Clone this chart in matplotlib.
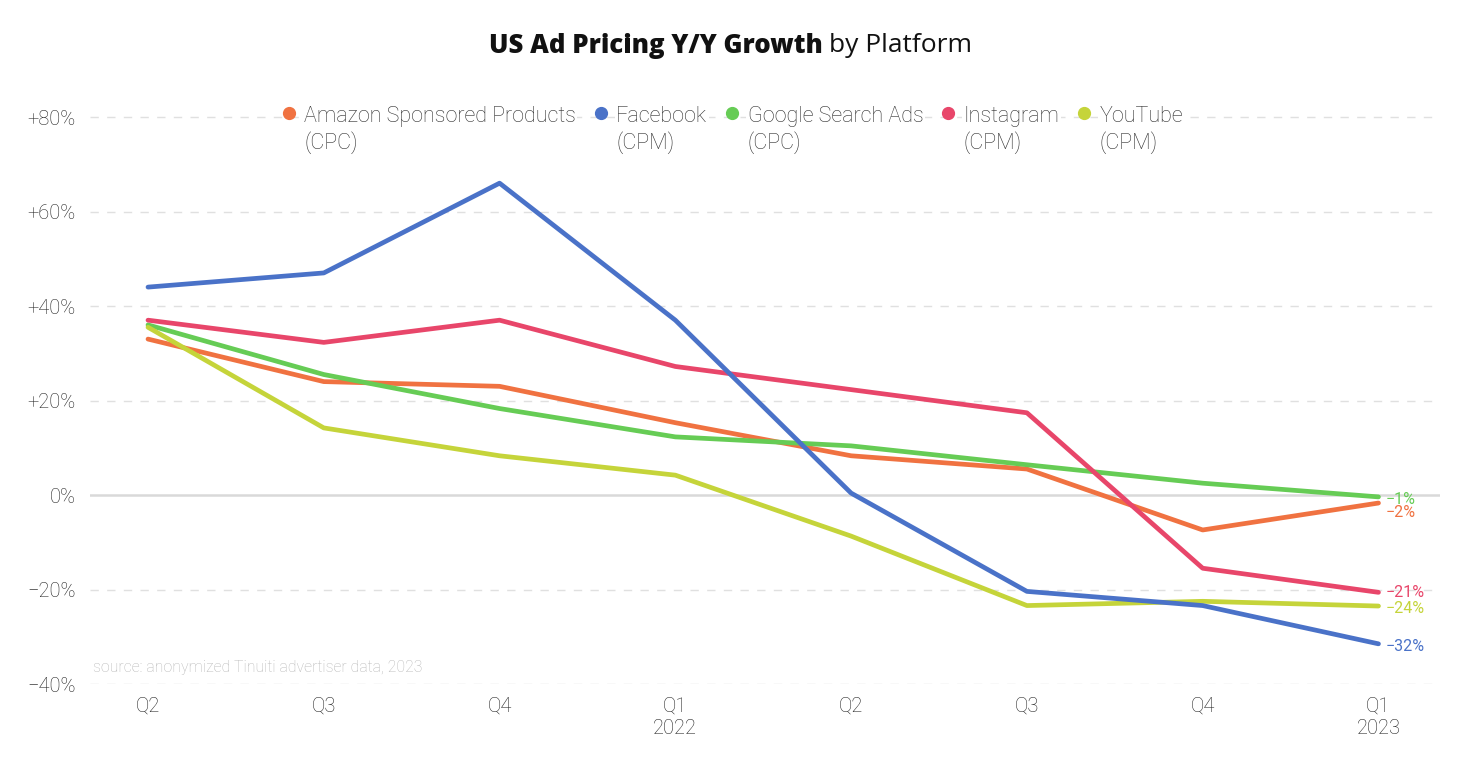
import matplotlib.pyplot as plt
from matplotlib.lines import Line2D

# ── data ───────────────────────────────────────────────
quarters = ["Q2", "Q3", "Q4", "Q1\n2022", "Q2", "Q3", "Q4", "Q1\n2023"]
names = ["Amazon Sponsored Products\n(CPC)", "Facebook\n(CPM)", "Google Search Ads\n(CPC)",
         "Instagram\n(CPM)", "YouTube\n(CPM)"]
amazon    = [33, 24, 23, 15.3, 8.3, 5.5, -7.4, -1.7]
facebook  = [44, 47, 66, 37, 0.4, -20.4, -23.4, -31.5]
google    = [36, 25.5, 18.3, 12.3, 10.4, 6.4, 2.5, -0.4]
instagram = [37, 32.3, 37, 27.2, 22.3, 17.4, -15.5, -20.6]
youtube   = [35.5, 14.2, 8.3, 4.2, -8.7, -23.4, -22.5, -23.5]
end_labels = ["\u22122%", "\u221232%", "\u22121%", "\u221221%", "\u221224%"]
yticks = [-40, -20, 0, 20, 40, 60, 80]

# ── style ──────────────────────────────────────────────
COLORS = ["#F07241", "#4A72C8", "#66CC55", "#E8466A", "#C5D43A"]
LABEL_DY = [-2.1, -0.5, -0.45, 0, -0.5]   # nudges for end labels
plt.rcParams['font.family'] = ['Roboto', 'DejaVu Sans']

fig = plt.figure(figsize=(14.64, 7.7), dpi=100)
ax = fig.add_axes([90 / 1464, 1 - 684 / 770, 1350 / 1464, 584 / 770])
ax.set_xlim(-0.33, 7.35)
ax.set_ylim(-40, 83.6)

series = [amazon, facebook, google, instagram, youtube]
x = list(range(len(quarters)))
order = [0, 2, 4, 3, 1]
for i in order:
    ax.plot(x, series[i], color=COLORS[i], lw=3.4, solid_capstyle='round', zorder=3 + order.index(i))

for i, s in enumerate(series):
    ax.text(x[-1] + 0.04, s[-1] + LABEL_DY[i], end_labels[i], color=COLORS[i],
            fontsize=11.5, ha='left', va='center', zorder=10)

# grid
for yv in yticks:
    if yv == 0:
        ax.axhline(0, color='#d9d9d9', lw=1.8, zorder=1)
    else:
        ax.axhline(yv, color='#e0e0e0', lw=1.0, ls=(0, (6, 6)), zorder=1)

ax.set_yticks(yticks)
ax.set_yticklabels([("+%d%%" % v) if v > 0 else ("0%" if v == 0 else "\u2212%d%%" % -v) for v in yticks])
ax.set_xticks(x)
ax.set_xticklabels(quarters)
ax.tick_params(length=0, labelsize=14.5, labelcolor='#222222')
ax.tick_params(axis='y', pad=10.5)
ax.tick_params(axis='x', pad=9)
for lab in ax.get_xticklabels() + ax.get_yticklabels():
    lab.set_fontweight('light')
for sp in ax.spines.values():
    sp.set_visible(False)

# legend
handles = [Line2D([], [], ls='none', marker='o', ms=8.5, color=c) for c in COLORS]
leg = fig.legend(handles, names, loc='upper center', bbox_to_anchor=(0.4998, 1 - 95 / 770),
                 ncol=5, frameon=False, fontsize=15.5, labelcolor='#2e2e2e',
                 handletextpad=0.32, columnspacing=0.75, handlelength=0.8, borderpad=0)
for t in leg.get_texts():
    t.set_fontweight('light')
    t.set_linespacing(1.25)
    t.set_bbox(dict(facecolor='white', edgecolor='none', pad=1))
for col in leg._legend_handle_box.get_children():
    for row in col.get_children():
        row.align = 'top'

# source
ax.text(0.002, -38.2, "source: anonymized Tinuiti advertiser data, 2023", transform=ax.get_yaxis_transform(),
        color='#b8b8b8', fontsize=11.4, fontweight='light', ha='left', va='bottom')

# title
fig.text(823 / 1464, 1 - 46 / 770, "US Ad Pricing Y/Y Growth", fontsize=18.5, fontweight='heavy',
         family=['Open Sans', 'DejaVu Sans'], ha='right', va='center', color='#111111')
fig.text(829 / 1464, 1 - 46 / 770, "by Platform", fontsize=19,
         family=['Open Sans', 'DejaVu Sans'], ha='left', va='center', color='#111111')

fig.savefig("out.png", dpi=100, facecolor='white')
